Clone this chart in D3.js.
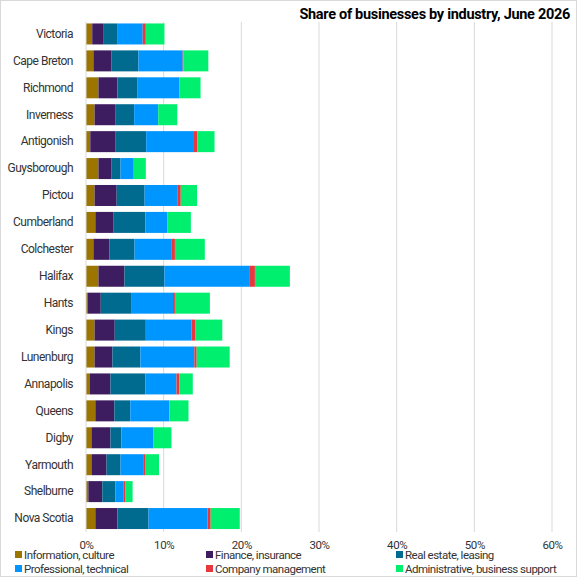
<!DOCTYPE html>
<html>
<head>
<meta charset="utf-8">
<script src="https://cdn.jsdelivr.net/npm/d3@7"></script>
<style>
  body{margin:0;background:#fff;}
  svg{font-family:"Roboto","Liberation Sans",sans-serif;}
</style>
</head>
<body>
<svg width="577" height="577"></svg>
<script>
// regions, top to bottom
var regions=["Victoria","Cape Breton","Richmond","Inverness","Antigonish","Guysborough","Pictou",
  "Cumberland","Colchester","Halifax","Hants","Kings","Lunenburg","Annapolis","Queens","Digby",
  "Yarmouth","Shelburne","Nova Scotia"];

var industries=["Information, culture","Finance, insurance","Real estate, leasing",
  "Professional, technical","Company management","Administrative, business support"];

// percent of businesses
var infoCulture=[0.8,0.95,1.6,1.1,0.55,1.6,1.1,1.2,0.95,1.6,0.2,1.1,1.1,0.45,1.2,0.7,0.7,0.3,1.2];
var financeInsurance=[1.4,2.3,2.45,2.65,3.2,1.7,2.85,2.3,2.05,3.35,1.7,2.6,2.3,2.7,2.45,2.45,1.95,1.8,2.85];
var realEstate=[1.8,3.5,2.6,2.45,4.0,1.15,3.6,4.15,3.25,5.15,3.9,4.0,3.6,4.5,2.05,1.4,1.8,1.7,4.0];
var professional=[3.3,5.7,5.4,3.1,6.15,1.7,4.2,2.85,4.8,11.0,5.4,5.9,6.95,4.0,5.05,4.15,3.0,1.0,7.6];
var companyMgmt=[0.4,0.1,0.0,0.0,0.45,0.0,0.45,0.0,0.4,0.65,0.25,0.45,0.3,0.35,0.0,0.0,0.15,0.3,0.4];
var adminSupport=[2.4,3.2,2.7,2.45,2.2,1.55,2.1,3.0,3.85,4.5,4.5,3.5,4.25,1.75,2.45,2.3,1.8,0.9,3.75];

var colors=["#9b7500","#3e1c60","#006b8f","#0096ff","#e8383d","#00ef6e"];

var xTicks=[0,0.1,0.2,0.3,0.4,0.5,0.6];

var drawChart=function(){
  var series=[infoCulture,financeInsurance,realEstate,professional,companyMgmt,adminSupport];
  var rows=regions.map(function(r,i){
    var o={region:r};
    industries.forEach(function(k,j){o[k]=series[j][i]/100;});
    return o;
  });

  var svg=d3.select("svg");
  var W=577,H=577;

  svg.append("rect").attr("x",0.5).attr("y",0.5).attr("width",W-1).attr("height",H-1)
    .attr("fill","#fff").attr("stroke","#d9d9d9");

  var x=d3.scaleLinear().domain([0,0.6]).range([86,552]);
  var y=d3.scaleBand().domain(regions).range([20.5,532]).paddingInner(0.22).paddingOuter(0.11);

  // gridlines
  svg.append("g").selectAll("line").data(xTicks.slice(1)).enter().append("line")
    .attr("x1",function(d){return x(d);}).attr("x2",function(d){return x(d);})
    .attr("y1",22).attr("y2",532)
    .attr("stroke","#d9d9d9").attr("stroke-width",1);

  var stack=d3.stack().keys(industries);
  var layers=stack(rows);

  svg.append("g").selectAll("g").data(layers).enter().append("g")
    .attr("fill",function(d,i){return colors[i];})
    .selectAll("rect").data(function(d){return d;}).enter().append("rect")
    .attr("x",function(d){return x(d[0]);})
    .attr("width",function(d){return Math.max(0,x(d[1])-x(d[0]));})
    .attr("y",function(d){return y(d.data.region);})
    .attr("height",y.bandwidth());

  // baseline
  svg.append("line").attr("x1",x(0)).attr("x2",x(0)).attr("y1",22).attr("y2",532)
    .attr("stroke","#d9d9d9");

  // y axis labels
  var yAxis=d3.axisLeft(y).tickSize(0).tickPadding(13);
  var yg=svg.append("g").attr("transform","translate("+x(0)+",0)").call(yAxis);
  yg.select(".domain").remove();
  yg.selectAll("text").attr("font-size",12).attr("letter-spacing","-0.5px").attr("fill","#333")
    .attr("font-family","Roboto, sans-serif");

  // x axis labels
  var xAxis=d3.axisBottom(x).tickValues(xTicks).tickFormat(d3.format(".0%")).tickSize(0).tickPadding(9);
  var xg=svg.append("g").attr("transform","translate(0,532)").call(xAxis);
  xg.select(".domain").remove();
  xg.selectAll("text").attr("font-size",11.5).attr("letter-spacing","-0.4px").attr("fill","#333")
    .attr("font-family","Roboto, sans-serif");

  // title
  svg.append("text").attr("x",570).attr("y",19).attr("text-anchor","end")
    .attr("font-size",14.5).attr("font-weight","bold").attr("letter-spacing","-0.3px").attr("fill","#000")
    .text("Share of businesses  by industry, June 2026");

  // legend
  var legX=[15,206,396];
  var leg=svg.append("g").selectAll("g").data(industries).enter().append("g")
    .attr("transform",function(d,i){return "translate("+legX[i%3]+","+(i<3?555:569)+")";});
  leg.append("rect").attr("x",0).attr("y",-4).attr("width",7).attr("height",7)
    .attr("fill",function(d,i){return colors[i];});
  leg.append("text").attr("x",9).attr("y",4).attr("font-size",11.5).attr("letter-spacing","-0.5px")
    .attr("fill","#333")
    .text(function(d){return d;});
};

drawChart();
</script>
</body>
</html>
